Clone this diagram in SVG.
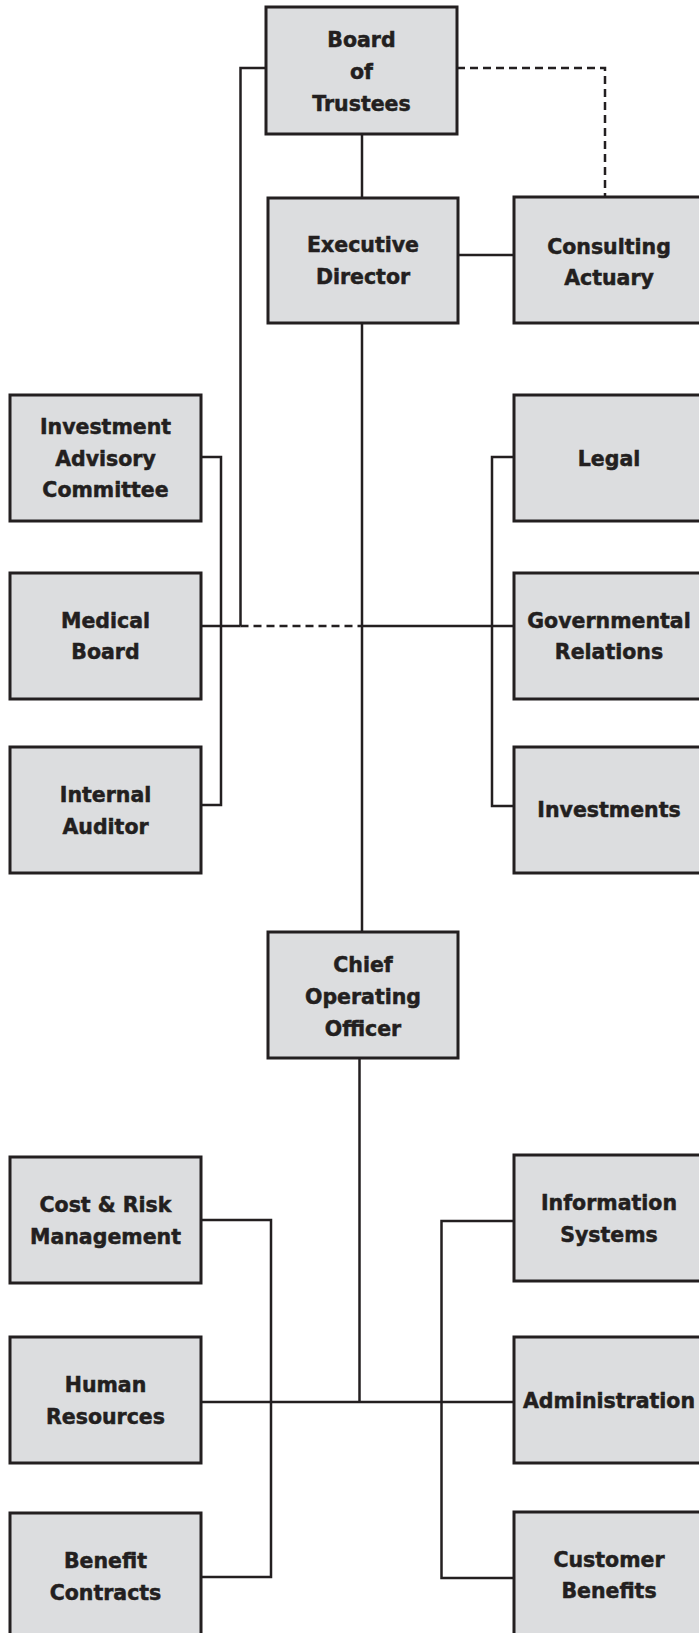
<svg xmlns="http://www.w3.org/2000/svg" width="699" height="1633" viewBox="0 0 699 1633">
  <style>
    .box { fill: #dcdddf; stroke: #231f20; stroke-width: 3; }
    .lbl { font-family: "DejaVu Sans", "Liberation Sans", sans-serif; font-weight: bold; font-size: 20.5px; fill: #231f20; stroke: #231f20; stroke-width: 0.5; text-anchor: middle; }
    .wire { fill: none; stroke: #231f20; stroke-width: 2.5; }
    .dash { fill: none; stroke: #231f20; stroke-width: 2.5; stroke-dasharray: 8 5; }
  </style>
  <rect width="699" height="1633" fill="#ffffff"/>

  <!-- connectors -->
  <g id="connectors">
    <path class="wire" d="M362,134 V198"/>
    <path class="wire" d="M266,68 H240.5 V626"/>
    <path class="dash" d="M457,68 H605 V197"/>
    <path class="wire" d="M458,255 H514"/>
    <path class="wire" d="M362,323 V932"/>
    <path class="wire" d="M201,626 H240.5"/>
    <path class="dash" d="M240.5,626 H362"/>
    <path class="wire" d="M362,626 H514"/>
    <path class="wire" d="M201,457 H221 V805 H201"/>
    <path class="wire" d="M514,457 H492 V806 H514"/>
    <path class="wire" d="M359.5,1058 V1402"/>
    <path class="wire" d="M201,1402 H514"/>
    <path class="wire" d="M201,1220 H271 V1577 H201"/>
    <path class="wire" d="M514,1221 H441.5 V1578 H514"/>
  </g>

  <g id="board">
    <rect class="box" x="266" y="7" width="191" height="127"/>
    <text class="lbl" x="361.5" y="47">Board</text>
    <text class="lbl" x="361.5" y="79">of</text>
    <text class="lbl" x="361.5" y="111">Trustees</text>
  </g>
  <g id="executive-director">
    <rect class="box" x="268" y="198" width="190" height="125"/>
    <text class="lbl" x="363" y="252">Executive</text>
    <text class="lbl" x="363" y="284">Director</text>
  </g>
  <g id="consulting-actuary">
    <rect class="box" x="514" y="197" width="190" height="126"/>
    <text class="lbl" x="609" y="254">Consulting</text>
    <text class="lbl" x="609" y="285">Actuary</text>
  </g>
  <g id="investment-advisory">
    <rect class="box" x="10" y="395" width="191" height="126"/>
    <text class="lbl" x="105.5" y="434">Investment</text>
    <text class="lbl" x="105.5" y="466">Advisory</text>
    <text class="lbl" x="105.5" y="497">Committee</text>
  </g>
  <g id="legal">
    <rect class="box" x="514" y="395" width="190" height="126"/>
    <text class="lbl" x="609" y="466">Legal</text>
  </g>
  <g id="medical-board">
    <rect class="box" x="10" y="573" width="191" height="126"/>
    <text class="lbl" x="105.5" y="628">Medical</text>
    <text class="lbl" x="105.5" y="659">Board</text>
  </g>
  <g id="governmental-relations">
    <rect class="box" x="514" y="573" width="190" height="126"/>
    <text class="lbl" x="609" y="628">Governmental</text>
    <text class="lbl" x="609" y="659">Relations</text>
  </g>
  <g id="internal-auditor">
    <rect class="box" x="10" y="747" width="191" height="126"/>
    <text class="lbl" x="105.5" y="802">Internal</text>
    <text class="lbl" x="105.5" y="834">Auditor</text>
  </g>
  <g id="investments">
    <rect class="box" x="514" y="747" width="190" height="126"/>
    <text class="lbl" x="609" y="817">Investments</text>
  </g>
  <g id="chief-operating-officer">
    <rect class="box" x="268" y="932" width="190" height="126"/>
    <text class="lbl" x="363" y="972">Chief</text>
    <text class="lbl" x="363" y="1004">Operating</text>
    <text class="lbl" x="363" y="1036">Officer</text>
  </g>
  <g id="cost-risk">
    <rect class="box" x="10" y="1157" width="191" height="126"/>
    <text class="lbl" x="105.5" y="1212">Cost &amp; Risk</text>
    <text class="lbl" x="105.5" y="1244">Management</text>
  </g>
  <g id="information-systems">
    <rect class="box" x="514" y="1155" width="190" height="126"/>
    <text class="lbl" x="609" y="1210">Information</text>
    <text class="lbl" x="609" y="1242">Systems</text>
  </g>
  <g id="human-resources">
    <rect class="box" x="10" y="1337" width="191" height="126"/>
    <text class="lbl" x="105.5" y="1392">Human</text>
    <text class="lbl" x="105.5" y="1424">Resources</text>
  </g>
  <g id="administration">
    <rect class="box" x="514" y="1337" width="190" height="126"/>
    <text class="lbl" x="609" y="1408">Administration</text>
  </g>
  <g id="benefit-contracts">
    <rect class="box" x="10" y="1513" width="191" height="126"/>
    <text class="lbl" x="105.5" y="1568">Benefit</text>
    <text class="lbl" x="105.5" y="1600">Contracts</text>
  </g>
  <g id="customer-benefits">
    <rect class="box" x="514" y="1512" width="190" height="126"/>
    <text class="lbl" x="609" y="1567">Customer</text>
    <text class="lbl" x="609" y="1598">Benefits</text>
  </g>
</svg>
